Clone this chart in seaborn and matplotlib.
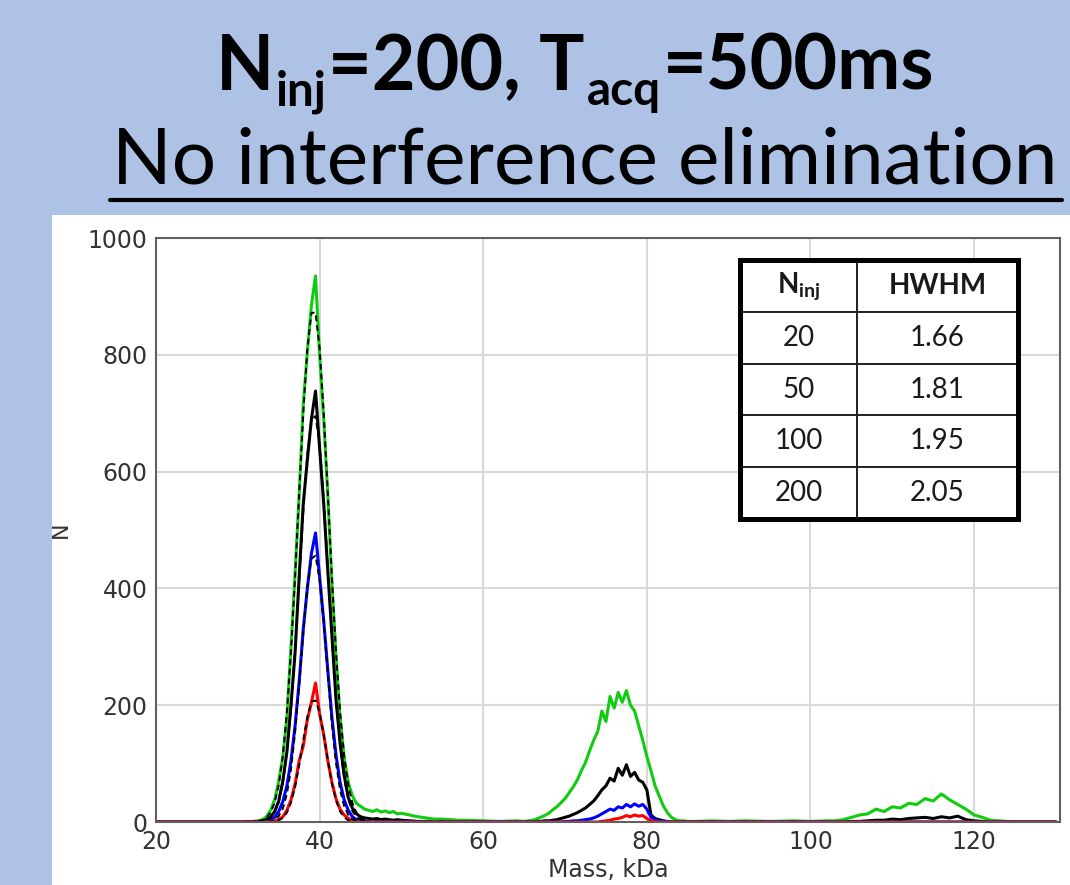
import matplotlib
matplotlib.use("Agg")
import numpy as np
import pandas as pd
import matplotlib.pyplot as plt
import seaborn as sns
from matplotlib.patches import Rectangle
from matplotlib.lines import Line2D

# ---- data ----
# mass grid (kDa): left gap | peak 1 | gap | peak 2 | gap | peak 3 | right gap
mass = ([20, 30, 31, 32]
        + [32.5, 33, 33.5, 34, 34.5, 35, 35.5, 36, 36.5, 37, 37.5, 38, 38.5, 39, 39.5,
           40, 40.5, 41, 41.5, 42, 42.5, 43, 43.5, 44, 44.5, 45, 45.5, 46, 46.5, 47,
           47.5, 48, 48.5, 49, 49.5, 50]
        + [51, 52, 53, 54, 55, 56, 57, 58, 60, 62, 64]
        + [65, 65.5, 66, 66.5, 67, 67.5, 68, 68.5, 69, 69.5, 70, 70.5, 71, 71.5, 72,
           72.5, 73, 73.5, 74, 74.5, 75, 75.5, 76, 76.5, 77, 77.5, 78, 78.5, 79, 79.5,
           80, 80.5, 81, 81.5, 82, 82.5, 83, 83.5, 84, 84.5, 85]
        + [86, 88, 90, 92, 95, 98, 100, 102]
        + [103, 104, 105, 106, 107, 108, 109, 110, 111, 112, 113, 114, 115, 116, 117,
           118, 119, 120, 121, 122, 123, 124]
        + [125, 127, 130])

n_200 = ([0, 0, 1, 1]
         + [2, 4, 9, 20, 38, 70, 112, 180, 300, 425, 560, 715, 805, 885, 935,
            800, 690, 560, 410, 285, 180, 110, 68, 45, 32, 27, 22, 20, 18, 21,
            17, 19, 16, 18, 14, 15]
         + [12, 9, 7, 5, 5, 4, 3, 3, 2, 1, 2]
         + [1, 2, 3, 5, 8, 11, 15, 21, 26, 33, 40, 50, 60, 72, 88,
            102, 122, 140, 155, 190, 172, 215, 195, 222, 205, 225, 200, 190, 165, 140,
            112, 88, 62, 45, 28, 16, 8, 4, 2, 2, 1]
         + [1, 2, 1, 2, 1, 2, 1, 2]
         + [2, 4, 8, 12, 14, 22, 18, 26, 24, 32, 30, 40, 36, 48, 38,
            30, 22, 12, 8, 3, 2, 1]
         + [0, 0, 0])

n_100 = ([0, 0, 0, 1]
         + [1, 2, 4, 8, 18, 36, 70, 120, 200, 290, 420, 545, 620, 690, 738,
            640, 545, 430, 320, 210, 135, 80, 42, 24, 14, 9, 7, 6, 5, 6,
            4, 5, 4, 3, 4, 3]
         + [2, 1, 1, 0, 1, 0, 0, 0, 0, 0, 0]
         + [0, 0, 0, 1, 1, 2, 2, 3, 4, 6, 8, 10, 13, 16, 20,
            24, 30, 36, 45, 55, 62, 75, 70, 92, 80, 98, 78, 85, 72, 68,
            55, 12, 6, 4, 2, 1, 0, 0, 0, 0, 0]
         + [0, 0, 0, 0, 0, 0, 0, 0]
         + [0, 0, 1, 1, 2, 3, 3, 5, 4, 6, 7, 8, 6, 9, 7,
            10, 4, 2, 1, 0, 0, 0]
         + [0, 0, 0])

n_50 = ([0, 0, 0, 0]
        + [0, 0, 1, 3, 8, 18, 35, 62, 105, 165, 240, 330, 400, 460, 495,
           420, 345, 260, 180, 115, 68, 38, 20, 9, 4, 2, 1, 1, 0, 1,
           0, 0, 1, 0, 0, 0]
        + [0, 0, 0, 0, 0, 0, 0, 0, 0, 0, 0]
        + [0, 0, 0, 0, 0, 0, 0, 0, 0, 0, 1, 1, 2, 2, 3,
           4, 5, 7, 10, 14, 18, 22, 20, 26, 24, 30, 26, 31, 27, 30,
           22, 8, 4, 2, 1, 0, 0, 0, 0, 0, 0]
        + [0, 0, 0, 0, 0, 0, 0, 0]
        + [0, 0, 0, 0, 0, 0, 0, 0, 0, 0, 0, 0, 0, 0, 0,
           0, 0, 0, 0, 0, 0, 0]
        + [0, 0, 0])

n_20 = ([0, 0, 0, 0]
        + [0, 0, 0, 1, 2, 4, 9, 20, 38, 65, 105, 130, 175, 205, 238,
           185, 150, 105, 68, 40, 22, 12, 6, 3, 1, 1, 0, 0, 0, 0,
           0, 0, 0, 0, 0, 0]
        + [0, 0, 0, 0, 0, 0, 0, 0, 0, 0, 0]
        + [0, 0, 0, 0, 0, 0, 0, 0, 0, 0, 0, 0, 0, 0, 0,
           0, 0, 0, 0, 1, 2, 3, 5, 6, 8, 11, 9, 12, 10, 11,
           6, 2, 1, 0, 0, 0, 0, 0, 0, 0, 0]
        + [0, 0, 0, 0, 0, 0, 0, 0]
        + [0, 0, 0, 0, 0, 0, 0, 0, 0, 0, 0, 0, 0, 0, 0,
           0, 0, 0, 0, 0, 0, 0]
        + [0, 0, 0])

# gaussian fits of the first peak (dashed black)
fit_mass = [32.5, 33, 33.5, 34, 34.5, 35, 35.5, 36, 36.5, 37, 37.5, 38, 38.5, 39,
            39.5, 40, 40.5, 41, 41.5, 42, 42.5, 43, 43.5, 44, 44.5, 45, 45.5, 46]
fit_200 = [1, 3, 7, 16, 33, 63, 113, 188, 292, 420, 563, 700, 811, 872,
           872, 811, 700, 563, 420, 292, 188, 113, 63, 33, 16, 7, 3, 1]
fit_100 = [0, 1, 3, 7, 16, 34, 66, 118, 195, 295, 412, 531, 631, 690,
           695, 646, 553, 437, 318, 213, 132, 75, 39, 19, 8, 4, 1, 0]
fit_50 = [0, 0, 0, 1, 4, 10, 23, 48, 90, 153, 234, 324, 403, 451,
          456, 415, 341, 252, 168, 101, 55, 27, 12, 5, 2, 1, 0, 0]
fit_20 = [0, 0, 0, 0, 1, 3, 7, 16, 33, 60, 97, 140, 180, 206,
          208, 187, 149, 106, 66, 37, 18, 8, 3, 1, 0, 0, 0, 0]

# inset table
n_inj = [20, 50, 100, 200]
hwhm = [1.66, 1.81, 1.95, 2.05]

series_order = ['200', '100', '50', '20']
colors = {'200': '#10cc10', '100': 'black', '50': '#0000ff', '20': '#ff0000'}

spec = pd.DataFrame({
    'Mass': mass * 4,
    'N': n_200 + n_100 + n_50 + n_20,
    'N_inj': sum([[k] * len(mass) for k in series_order], []),
})
fits = pd.DataFrame({
    'Mass': fit_mass * 4,
    'N': fit_200 + fit_100 + fit_50 + fit_20,
    'N_inj': sum([[k] * len(fit_mass) for k in series_order], []),
})

# ---- style ----
sns.set_style('whitegrid', {'grid.color': '#d9d9d9', 'axes.edgecolor': '#606060'})
plt.rcParams['font.family'] = ['DejaVu Sans']
plt.rcParams['mathtext.fontset'] = 'custom'
plt.rcParams['mathtext.rm'] = 'Lato'
plt.rcParams['mathtext.bf'] = 'Lato:bold'
plt.rcParams['mathtext.it'] = 'Lato:italic'
TITLE_FONT = 'Lato'

W, H = 1070, 885
fig = plt.figure(figsize=(W / 100, H / 100), dpi=100, facecolor='#aec2e6')
fig.add_artist(Rectangle((52 / W, 0), 1, (H - 215) / H, transform=fig.transFigure,
                         facecolor='white', edgecolor='none', zorder=0))

ax = fig.add_axes([156 / W, 63 / H, 904 / W, 584 / H])
ax.set_facecolor('white')

sns.lineplot(data=spec, x='Mass', y='N', hue='N_inj', hue_order=series_order,
             palette=colors, estimator=None, sort=False, lw=2.2, legend=False, ax=ax)
sns.lineplot(data=fits, x='Mass', y='N', units='N_inj', estimator=None, sort=False,
             color='black', lw=1.4, linestyle=(0, (3, 2)), legend=False, ax=ax)

ax.set_xlim(20, 130.5)
ax.set_ylim(0, 1000)
ax.set_xticks([20, 40, 60, 80, 100, 120])
ax.set_yticks([0, 200, 400, 600, 800, 1000])
ax.grid(True, color='#d9d9d9', lw=1.5)
for sp in ax.spines.values():
    sp.set_color('#606060')
    sp.set_linewidth(1.5)
ax.tick_params(axis='both', length=4, width=1.2, color='#606060', labelsize=17,
               labelcolor='#333333', pad=2)
ax.set_xlabel('Mass, kDa', fontsize=17, color='#333333', labelpad=3)
ax.set_ylabel('N', fontsize=16, color='#333333', labelpad=12)

# ---- inset table ----
cell_text = [[str(n), f'{h:.2f}'] for n, h in zip(n_inj, hwhm)]
tb = [0.646, 0.5188, 0.3075, 0.4435]
tbl = ax.table(cellText=cell_text, colLabels=[r'$\mathbf{N_{inj}}$', 'HWHM'],
               colWidths=[0.421, 0.579], cellLoc='center', bbox=tb)
tbl.auto_set_font_size(False)
tbl.set_zorder(5)
for (r, c), cell in tbl.get_celld().items():
    cell.set_linewidth(1.4)
    cell.set_edgecolor('#222222')
    cell.set_facecolor('white')
    txt = cell.get_text()
    txt.set_fontsize(20)
    txt.set_fontfamily('Lato')
    txt.set_color('#1a1a1a')
    if r == 0:
        txt.set_fontweight('bold')
ax.add_patch(Rectangle((tb[0], tb[1]), tb[2], tb[3], transform=ax.transAxes,
                       fill=False, lw=3.6, edgecolor='black', zorder=6, clip_on=False))

# ---- titles ----
renderer = fig.canvas.get_renderer()


def rich_line(pieces, cx, base_y, size, weight, target_w, sub_scale=0.63, sub_drop=0.2):
    def build(fs):
        arts = []
        for s, sub in pieces:
            t = fig.text(0, 0, s, fontsize=fs * sub_scale if sub else fs,
                         fontweight=weight, family=TITLE_FONT, va='baseline',
                         ha='left', color='black')
            arts.append((t, sub))
        ws = [t.get_window_extent(renderer).width + 2 for t, _ in arts]
        return arts, ws

    arts, ws = build(size)
    fs = size * target_w / sum(ws)
    for t, _ in arts:
        t.remove()
    arts, ws = build(fs)
    x = cx - sum(ws) / 2
    for (t, sub), w in zip(arts, ws):
        drop = fs * sub_drop * 100 / 72 if sub else 0
        t.set_position((x / W, (H - base_y - drop) / H))
        x += w


rich_line([('N', False), ('inj', True), ('=200, T', False), ('acq', True),
           ('=500ms', False)], cx=576, base_y=90, size=50, weight='bold', target_w=723)

sub = fig.text(585 / W, (H - 184) / H, 'No interference elimination', fontsize=50,
               family=TITLE_FONT, ha='center', va='baseline', color='black')
sw = sub.get_window_extent(renderer).width
sub.set_fontsize(50 * 945 / sw)
fig.add_artist(Line2D([110 / W, 1062 / W], [(H - 200) / H, (H - 200) / H],
                      transform=fig.transFigure, color='black', lw=3))

fig.savefig('out.png', dpi=100, facecolor=fig.get_facecolor())
